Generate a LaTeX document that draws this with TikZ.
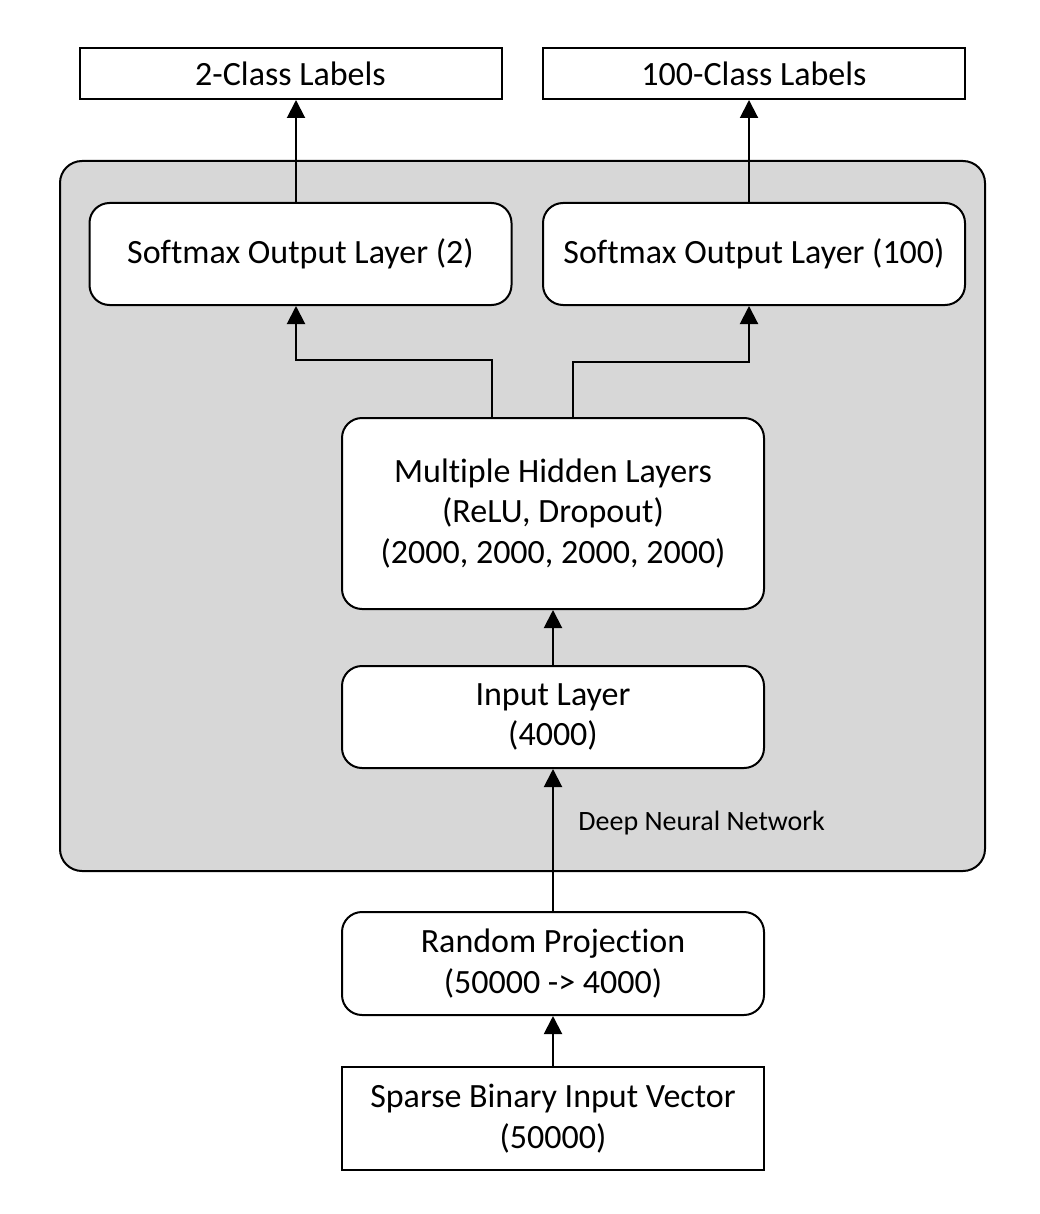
\documentclass[tikz,border=0pt]{standalone}
\usepackage{fontspec}
\setmainfont{Carlito}[Ligatures={NoCommon}]
\usetikzlibrary{arrows.meta}
\definecolor{panelgray}{HTML}{D7D7D7}
\begin{document}
\begin{tikzpicture}[x=0.5pt,y=-0.5pt,
  box/.style={draw, line width=1pt, fill=white, inner sep=0pt, align=center,
    minimum width=211pt, minimum height=51pt,
    font=\fontsize{17}{20.3}\selectfont},
  rbox/.style={box, rounded corners=10pt},
  arr/.style={-{Triangle[length=9pt,width=9pt]}, line width=1pt}]
\useasboundingbox (0,0) rectangle (1039,1214);
% background panel
\draw[line width=1pt, fill=panelgray, rounded corners=11pt] (60,161) rectangle (985,871);
\node[font=\fontsize{14}{17}\selectfont, anchor=west, inner sep=0pt] (dnn) at (578,823) {Deep Neural Network};
% nodes
\node[box, minimum height=25.5pt] (c2) at (290.5,73.5) {2-Class Labels};
\node[box, minimum height=25.5pt] (c100) at (754,73.5) {100-Class Labels};
\node[rbox, minimum height=51pt] (s2) at (300.5,254) {Softmax Output Layer (2)};
\node[rbox, minimum height=51pt] (s100) at (754,254) {Softmax Output Layer (100)};
\node[rbox, minimum height=95.5pt] (hid) at (553,513.5) {Multiple Hidden Layers\\(ReLU, Dropout)\\(2000, 2000, 2000, 2000)};
\node[rbox] (inp) at (553,717) {Input Layer\\(4000)};
\node[rbox, minimum height=51.5pt] (rp) at (553,963.5) {Random Projection\\(50000 -> 4000)};
\node[box, minimum height=51.5pt] (sp) at (553,1118.5) {Sparse Binary Input Vector\\(50000)};
% connectors
\draw[arr] (sp) -- (rp);
\draw[arr] (rp) -- (inp);
\draw[arr] (inp) -- (hid);
\draw[arr] ([xshift=-30.5pt]hid.north) -- ++(0,-57) -| ([xshift=-2.25pt]s2.south);
\draw[arr] ([xshift=10pt]hid.north) -- ++(0,-55) -| ([xshift=-2.5pt]s100.south);
\draw[arr] ([xshift=-2.25pt]s2.north) -- ([xshift=-2.25pt]s2.north |- c2.south);
\draw[arr] ([xshift=-2.5pt]s100.north) -- ([xshift=-2.5pt]s100.north |- c100.south);
\end{tikzpicture}
\end{document}
